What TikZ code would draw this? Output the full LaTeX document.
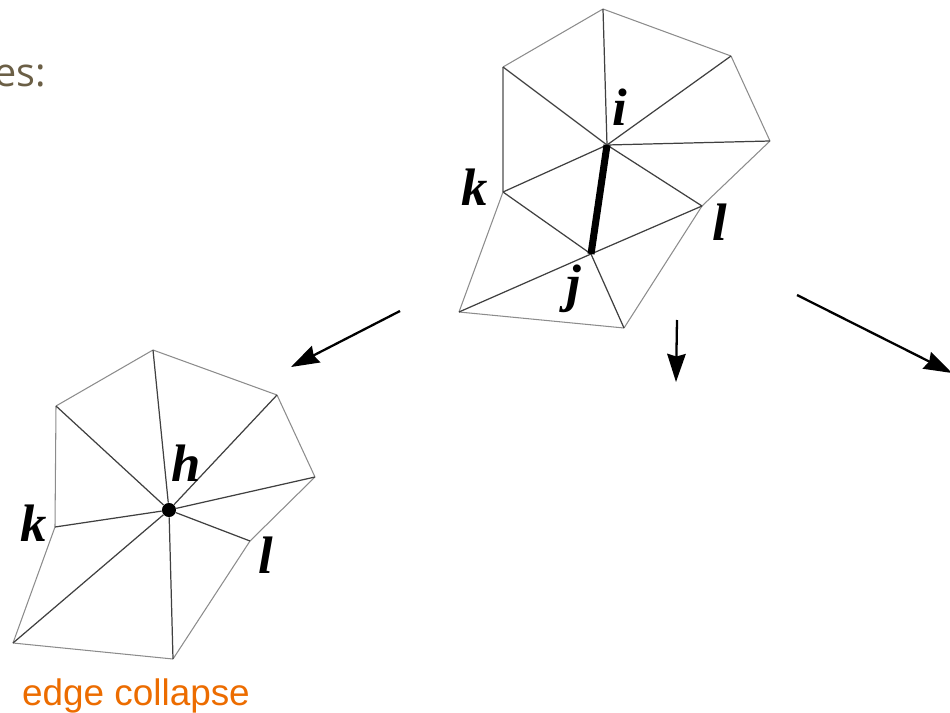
\documentclass[tikz,border=0pt]{standalone}
\usepackage{amsmath}
\usepackage{fontspec}
\usepackage{tikz}
\usetikzlibrary{arrows.meta}
\setmainfont{Liberation Sans}
\newfontfamily\slidefont{Open Sans}
\newfontfamily\meshfont{Liberation Serif}
\definecolor{slidebrown}{HTML}{6B5F46}
\definecolor{edgeorange}{HTML}{EC6C00}
\tikzset{
    outeredge/.style={draw=black!45, line width=0.6pt},
    inneredge/.style={draw=black!75, line width=0.7pt},
    boldedge/.style={draw=black, line width=4pt},
    meshlabel/.style={inner sep=0pt, font=\meshfont\bfseries\itshape\fontsize{30}{30}\selectfont},
    bigarrow/.style={draw=black, line width=1.3pt, -{Stealth[length=16pt,width=10.5pt,inset=1.5pt]}}
}

\begin{document}
\begin{tikzpicture}[x=0.02cm, y=-0.02cm]
    \useasboundingbox (0,0) rectangle (950,713);
    \clip (0,0) rectangle (950,713);

    % Texto de la diapositiva
    \node[anchor=base east, inner sep=0pt, text=slidebrown, font=\slidefont\fontsize{22.5}{24}\selectfont] (slidetext) at (46,87) {es:};
    \node[anchor=base, inner sep=0pt, text=edgeorange, font=\fontsize{21}{24}\selectfont] (caption) at (136,705) {edge collapse};

    % Vertices de la malla superior
    \coordinate (A1) at (603,9);
    \coordinate (B1) at (503,67);
    \coordinate (C1) at (731,56);
    \coordinate (D1) at (770,141);
    \coordinate (E1) at (459,312);
    \coordinate (F1) at (624,328);
    \coordinate (I) at (607,145);
    \coordinate (K1) at (503,192);
    \coordinate (L1) at (702,206);
    \coordinate (J) at (591,254);

    % Contorno de la malla superior
    \draw[outeredge] (A1) -- (C1);
    \draw[outeredge] (C1) -- (D1);
    \draw[outeredge] (D1) -- (L1);
    \draw[outeredge] (L1) -- (F1);
    \draw[outeredge] (F1) -- (E1);
    \draw[outeredge] (E1) -- (K1);
    \draw[outeredge] (K1) -- (B1);
    \draw[outeredge] (B1) -- (A1);

    % Aristas interiores de la malla superior
    \draw[inneredge] (I) -- (A1);
    \draw[inneredge] (I) -- (B1);
    \draw[inneredge] (I) -- (C1);
    \draw[inneredge] (I) -- (D1);
    \draw[inneredge] (I) -- (K1);
    \draw[inneredge] (I) -- (L1);
    \draw[inneredge] (J) -- (K1);
    \draw[inneredge] (J) -- (L1);
    \draw[inneredge] (J) -- (E1);
    \draw[inneredge] (J) -- (F1);
    \draw[boldedge] (I) -- (J);

    % Etiquetas de la malla superior
    \node[meshlabel] (labi) at (620,107) {i};
    \node[meshlabel] (labk) at (475,187) {k};
    \node[meshlabel] (labl) at (720,222) {l};
    \node[meshlabel] (labj) at (574,289) {j};

    % Flechas
    \coordinate (P1) at (400,311);
    \coordinate (P2) at (291,367);
    \coordinate (Q1) at (677,320);
    \coordinate (Q2) at (676,382);
    \coordinate (R1) at (797,295);
    \coordinate (R2) at (952,373);
    \draw[bigarrow] (P1) -- (P2);
    \draw[bigarrow] (Q1) -- (Q2);
    \draw[bigarrow] (R1) -- (R2);

    % Vertices de la malla inferior
    \node[circle, fill=black, inner sep=0pt, minimum size=8pt] (H) at (169,510) {};
    \coordinate (A2) at (153,350);
    \coordinate (B2) at (56,406);
    \coordinate (C2) at (277,395);
    \coordinate (D2) at (315,477);
    \coordinate (E2) at (13,643);
    \coordinate (F2) at (173,659);
    \coordinate (K2) at (55,527);
    \coordinate (L2) at (250,541);

    % Contorno de la malla inferior
    \draw[outeredge] (A2) -- (C2);
    \draw[outeredge] (C2) -- (D2);
    \draw[outeredge] (D2) -- (L2);
    \draw[outeredge] (L2) -- (F2);
    \draw[outeredge] (F2) -- (E2);
    \draw[outeredge] (E2) -- (K2);
    \draw[outeredge] (K2) -- (B2);
    \draw[outeredge] (B2) -- (A2);

    % Aristas que llegan al vertice h
    \draw[inneredge] (H) -- (A2);
    \draw[inneredge] (H) -- (B2);
    \draw[inneredge] (H) -- (C2);
    \draw[inneredge] (H) -- (D2);
    \draw[inneredge] (H) -- (E2);
    \draw[inneredge] (H) -- (F2);
    \draw[inneredge] (H) -- (K2);
    \draw[inneredge] (H) -- (L2);

    % Etiquetas de la malla inferior
    \node[meshlabel] (labh) at (186,463) {h};
    \node[meshlabel] (labkk) at (34,523) {k};
    \node[meshlabel] (labll) at (266,555) {l};
\end{tikzpicture}
\end{document}
